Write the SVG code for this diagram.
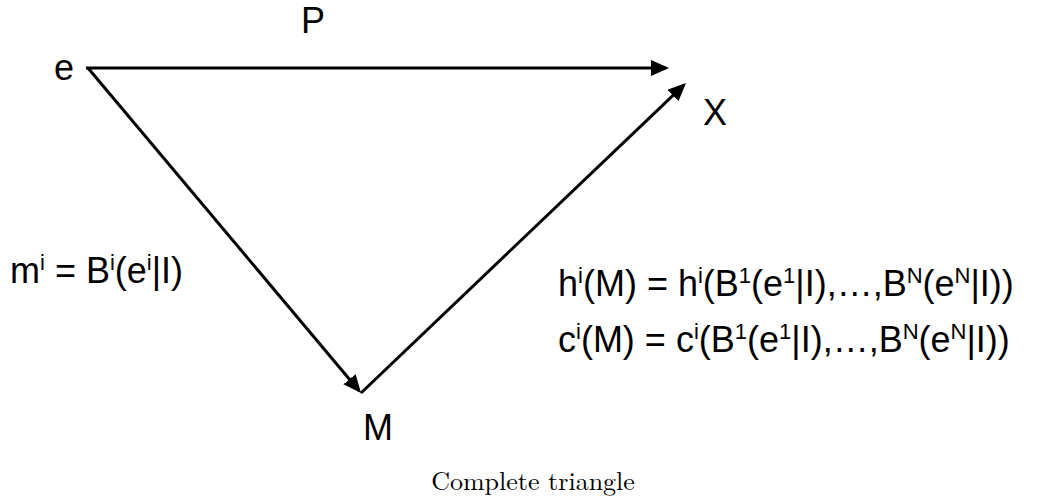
<svg xmlns="http://www.w3.org/2000/svg" width="1041" height="500" viewBox="0 0 1041 500">
<style>
.t{font-family:"Liberation Sans",Arial,sans-serif;font-size:36px;fill:#000}
.s{font-size:22px}
.cap{font-family:"Latin Modern Roman","Liberation Serif",serif;font-size:26px;fill:#000}
.ln{stroke:#000;stroke-width:3;fill:none}
</style>
<defs>
<marker id="ah" markerUnits="userSpaceOnUse" markerWidth="18" markerHeight="16" refX="15" refY="8" orient="auto">
<path d="M0,0 L18,8 L0,16 z" fill="#000"/>
</marker>
</defs>
<rect width="1041" height="500" fill="#fff"/>
<g id="connectors">
<line class="ln" x1="86" y1="68" x2="666" y2="68" marker-end="url(#ah)"/>
<line class="ln" x1="88" y1="68" x2="359.1" y2="390.7" marker-end="url(#ah)"/>
<line class="ln" x1="361" y1="393" x2="683.8" y2="85.1" marker-end="url(#ah)"/>
</g>
<g id="node-e"><text class="t" x="54" y="80">e</text></g>
<g id="node-X"><text class="t" x="703" y="125">X</text></g>
<g id="node-M"><text class="t" x="363" y="440">M</text></g>
<g id="label-P"><text class="t" x="301" y="33">P</text></g>
<g id="label-m"><text class="t" x="10" y="283">m<tspan class="s" dy="-13">i</tspan><tspan dy="13"> = B</tspan><tspan class="s" dy="-13">i</tspan><tspan dy="13">(e</tspan><tspan class="s" dy="-13">i</tspan><tspan dy="13">|I)</tspan></text></g>
<g id="label-h"><text class="t" x="558" y="296">h<tspan class="s" dy="-13">i</tspan><tspan dy="13">(M) = h</tspan><tspan class="s" dy="-13">i</tspan><tspan dy="13">(B</tspan><tspan class="s" dy="-13">1</tspan><tspan dy="13">(e</tspan><tspan class="s" dy="-13">1</tspan><tspan dy="13">|I),…,B</tspan><tspan class="s" dy="-13">N</tspan><tspan dy="13">(e</tspan><tspan class="s" dy="-13">N</tspan><tspan dy="13">|I))</tspan></text></g>
<g id="label-c"><text class="t" x="558" y="352">c<tspan class="s" dy="-13">i</tspan><tspan dy="13">(M) = c</tspan><tspan class="s" dy="-13">i</tspan><tspan dy="13">(B</tspan><tspan class="s" dy="-13">1</tspan><tspan dy="13">(e</tspan><tspan class="s" dy="-13">1</tspan><tspan dy="13">|I),…,B</tspan><tspan class="s" dy="-13">N</tspan><tspan dy="13">(e</tspan><tspan class="s" dy="-13">N</tspan><tspan dy="13">|I))</tspan></text></g>
<g id="caption"><text class="cap" x="533" y="490" text-anchor="middle">Complete triangle</text></g>
</svg>
